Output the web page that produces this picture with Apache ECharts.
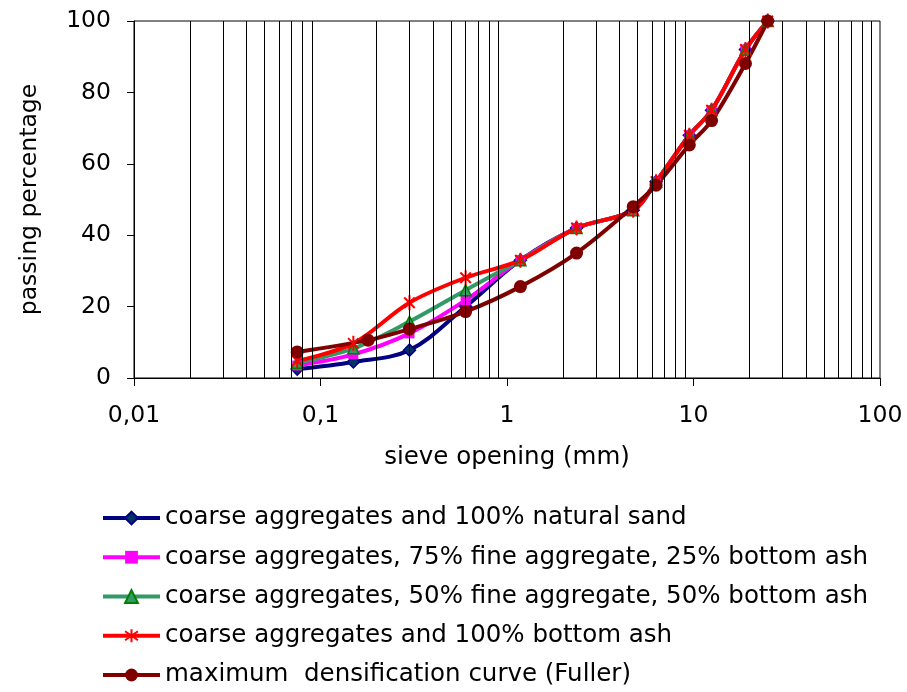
<!DOCTYPE html>
<html>
<head>
<meta charset="utf-8">
<script src="https://cdn.jsdelivr.net/npm/echarts@6/dist/echarts.min.js"></script>
<style>
  html, body { margin: 0; padding: 0; background: #fff; }
  #chart { width: 907px; height: 692px; }
</style>
</head>
<body>
<div id="chart"></div>
<script>
// Sieve openings (mm) for the four mixes and for the Fuller curve
const sieveMix = [0.075, 0.15, 0.3, 0.6, 1.18, 2.36, 4.75, 6.3, 9.5, 12.5, 19, 25];
const sieveFuller = [0.075, 0.18, 0.3, 0.6, 1.18, 2.36, 4.75, 6.3, 9.5, 12.5, 19, 25];

// Passing percentage for each gradation
const naturalSand   = [2.5, 4.5, 7.8, 20.0, 33, 42, 47, 55, 68, 75, 92, 100];
const ash25         = [3.5, 6.6, 12.5, 21.8, 33, 42, 47, 55, 68, 75, 92, 100];
const ash50         = [4.3, 8.3, 15.8, 24.6, 33, 42, 47, 55, 68, 75, 92, 100];
const ash100        = [4.8, 9.7, 21.1, 28.1, 33, 42, 47, 55, 68, 75, 92, 100];
const fullerCurve   = [7.3, 10.6, 13.7, 18.6, 25.6, 35, 48, 54, 65.3, 72.1, 88.1, 100];

const seriesNames = [
  'coarse aggregates and 100% natural sand',
  'coarse aggregates, 75% fine aggregate, 25% bottom ash',
  'coarse aggregates, 50% fine aggregate, 50% bottom ash',
  'coarse aggregates and 100% bottom ash',
  'maximum  densification curve (Fuller)'
];

// Log-axis gridlines at 2..9 within each decade
const decades = [0.01, 0.1, 1, 10];
const multipliers = [2, 3, 4, 5, 6, 7, 8, 9];
const minorGrid = [];
decades.forEach(d => multipliers.forEach(m => minorGrid.push(+(d * m).toPrecision(3))));

const FONT = '"DejaVu Sans", "Liberation Sans", Arial, sans-serif';
const FS = 23.5;      // tick labels and y-axis title
const FS_BIG = 24.5;  // legend and x-axis title
const pairs = (xs, ys) => xs.map((x, i) => [x, ys[i]]);
const STAR = 'path://M0,-10L0,10M-7,-7L7,7M-7,7L7,-7';

function lineSeries(name, xs, ys, color, symbol, size, fill, border, bw) {
  return {
    name, type: 'line', data: pairs(xs, ys),
    smooth: 0.35,
    symbol, symbolSize: size, symbolKeepAspect: true,
    lineStyle: { color, width: 4 },
    itemStyle: { color: fill, borderColor: border || fill, borderWidth: bw || 0 },
    z: 3
  };
}

const chart = echarts.init(document.getElementById('chart'), null, { renderer: 'canvas' });
chart.setOption({
  animation: false,
  backgroundColor: '#fff',
  textStyle: { fontFamily: FONT, color: '#000' },
  grid: {
    left: 134, right: 27, top: 21, bottom: 314,
    show: true, borderColor: '#000', borderWidth: 1, backgroundColor: 'transparent'
  },
  xAxis: {
    type: 'log', logBase: 10, min: 0.01, max: 100,
    name: 'sieve opening (mm)', nameLocation: 'middle', nameGap: 67,
    nameTextStyle: { fontSize: FS_BIG, color: '#000', fontFamily: FONT },
    axisLine: { lineStyle: { color: '#000', width: 1 } },
    axisTick: { show: true, length: 8, lineStyle: { color: '#000' } },
    axisLabel: {
      fontSize: FS, color: '#000', margin: 26, fontFamily: FONT,
      formatter: v => String(v).replace('.', ',')
    },
    splitLine: { show: false }
  },
  yAxis: {
    type: 'value', min: 0, max: 100, interval: 20,
    name: 'passing percentage', nameLocation: 'middle', nameGap: 92, nameRotate: 90,
    nameTextStyle: { fontSize: FS, color: '#000', fontFamily: FONT },
    axisLine: { show: true, lineStyle: { color: '#000', width: 1 } },
    axisTick: { show: true, length: 7, lineStyle: { color: '#000' } },
    axisLabel: { fontSize: FS, color: '#000', margin: 23, fontFamily: FONT },
    splitLine: { show: false }
  },
  legend: {
    orient: 'vertical', left: 101, top: 505, padding: 0,
    itemWidth: 57, itemHeight: 16, itemGap: 13.25,
    lineStyle: { width: 4 },
    textStyle: { fontSize: FS_BIG, color: '#000', fontFamily: FONT, lineHeight: 26 },
    data: seriesNames
  },
  series: [
    {
      name: 'grid', type: 'line', data: [], z: 1, silent: true,
      markLine: {
        silent: true, symbol: ['none', 'none'], label: { show: false },
        lineStyle: { color: '#000', width: 1, type: 'solid' },
        emphasis: { disabled: true },
        data: minorGrid.map(v => ({ xAxis: v }))
      }
    },
    lineSeries(seriesNames[0], sieveMix, naturalSand, '#000080', 'diamond', 12, '#003366', '#000080', 1.5),
    lineSeries(seriesNames[1], sieveMix, ash25, '#FF00FF', 'rect', 10, '#FF00FF'),
    lineSeries(seriesNames[2], sieveMix, ash50, '#339966', 'triangle', 11, '#339966', '#008000', 1.5),
    Object.assign(
      lineSeries(seriesNames[3], sieveMix, ash100, '#FF0000', STAR, 15, 'rgba(0,0,0,0)', '#FF0000'),
      { itemStyle: { color: 'rgba(0,0,0,0)', borderColor: '#FF0000', borderWidth: 2 } }
    ),
    lineSeries(seriesNames[4], sieveFuller, fullerCurve, '#800000', 'circle', 13, '#800000')
  ]
});
</script>
</body>
</html>
